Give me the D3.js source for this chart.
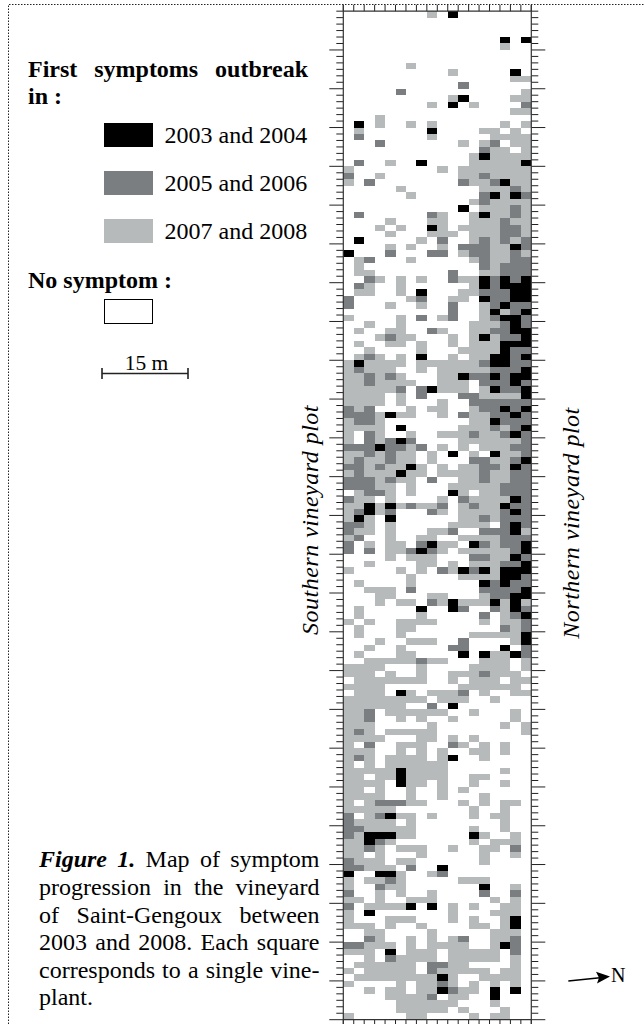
<!DOCTYPE html>
<html>
<head>
<meta charset="utf-8">
<script src="https://cdn.jsdelivr.net/npm/d3@7"></script>
<style>
  html, body { margin: 0; padding: 0; background: #fff; }
  svg { display: block; font-family: "Liberation Serif", serif; }
  .axis path, .axis line { stroke: #222; }
</style>
</head>
<body>
<div id="map"></div>
<script>
// one entry per vine row, top to bottom. K/M/L + column (or column range)
var rows = [
  "", "L8 K10", "", "", "", "K15 K17", "L15", "", "", "L6",
  "L10 K16", "L16-17", "M11", "M5 L17", "L10 K11 L16-17", "L8 K10 L12 M17", "L16-17", "L3", "K1 L3 L6 L8 L15 L17", "L1 K8 L13-14 L16",
  "M1 L8 L14-17", "M3 L11 L13 M14 L16-17", "M13 L14-15 L17", "L12 K13 L14-17", "M1 L4 K7 L12-16 K17",
  "L0 L9 L11-17", "M0 L3 L11-12 M13 L14-17", "L0 M2 M11 L12-13 M14 K15 L16-17", "L5 L13-15 M16 L17", "L6 M13 K14 L15 K16 M17",
  "L12 M13 L14-17", "K11 L13-15 M16 L17", "M1 M8 L9 L12 K13 L14-15 M16 L17", "L4 L8-9 L12-14 M15 L16-17", "L3 L5 K8 L9 L11-14 M15-16 L17",
  "L4 L8-10 L12-14 M15-16 L17", "K1 L7 M9 L12 M13 L14 M15 L16 M17", "L4 L6 L9 M11-13 L14-15 K16 M17", "K0 M4 M8-9 L11 M12-13 L14-15 M16 L17", "L1 M2 L6 L12 M13 L14-15 M16-17",
  "L1 M13 L14 M15-17", "L1-2 M10 L13-14 M15-17", "M2 L3 L5 L7 M10 L11-12 K13 M14 K15 M16 K17", "M1 L2 L5 L12 K13 M14 K15-17", "L1-2 L5 K7 L11-12 M13-15 K16-17",
  "M0 L6 M7 L10-11 K13 M14-15 K16-17", "M0 L4 L7 M10 L13 M14 K15 M16-17", "M10 L13 K14 L15 M16 K17", "L0 L5 M7 L9 M10 L13 M14 K15-16 M17", "L2 L5 L12-14 M15 K16 M17",
  "L1 L4-5 M8 L9 L12-13 M14-15 K16-17", "L3 M4 L5-6 L10 L12 K13 L14 M15-16 K17", "L1 L4-5 L7 L10 L12-14 K15-17", "L2 L7 L11-14 K15 M16-17", "L1 M2 L3 L5 K7 L10 L12-13 K14-15 M16 K17",
  "L0 K1 L2-5 L7-12 M13 K14-15 M16-17", "L0 M1 L2-4 L7 L9-13 M14-16 K17", "L0-1 M2 L3 M4 L5 L9-10 K11 M12-13 K14 M15 K16-17", "L0-1 M2 L3-6 L9-11 M13-15 K16 M17", "L0-4 M5 M7 K8 L9-11 L13 K14 M15-16 K17",
  "L0-3 L5 M7 M11-12 L13-16 K17", "L0-3 L5 L9 M12-17", "M0 L1 M2 L6 L8-9 L12 M13-14 K15 M16 K17", "M0-2 L3 K4 L5-6 L9 M11 L12-13 M14-15 K16 M17", "L0 M1-2 L3 L12-13 K14 M15-17",
  "L0-3 K5 L11-13 M14 L15 M16 K17", "L0 M2 L3 L6 L9-11 M12 L13-14 M15 K16 M17", "L0 M2 L3 M4 K5 M6 L11-16 M17", "M0-2 K3 M4-5 L6 M7 L9 L11 L13-15 M16-17", "L0-1 M2 L3 M4 L5-6 L8 K10 L12 K14 L15-16 M17",
  "L0 M1 L2-3 M4 L5-6 L8 M12-13 L14-15 M16 K17", "M0-1 L2 M3 L4-5 K6 L7 L9 L11-12 M13-14 L15 K16 M17", "L0 M1 L2-4 K5 L6-7 L9-12 M13 L14-15 M16-17", "M0-2 L3 M4 L5-6 M8 L11-12 M13 L14-15 M16-17", "M0-2 L3-4 L6 L10-14 M15-17",
  "L1 M2-3 L4 L6 K10 L11 L13-14 M15-17", "M0 L1-2 L4 L9 M11 L12-15 K16 M17", "L0-1 K2 L3 K4 L5 M6 L7-8 M9 L11 M12 L13-14 K15 M16-17", "L0 M1 K2 L3 M4 M8 L9 L11-14 M15 K16 M17", "L0 K1 L2 K4 L11-12 M13 L14 M15-17",
  "M0-1 L2 L4 L10-13 M15 K16 M17", "M0 L1-2 L4 L8-9 M10 M13-15 K16 L17", "L0 M1 L4 L7-8 L11-14 M15-17", "M0 L2 L4-5 M7 K8 L9-10 K12 M13 L14 M15-16 K17", "M0 M2 L4-5 M6 K7 M8 L9 L11-15 M16 K17",
  "L4 L6-8 M12-13 L14-15 K16 M17", "L2 L7-8 L10 L12-14 M15-16 K17", "L0 L5 L7 M9 L10 K11 M12 K13 L14 K15-17", "L6 L11-14 K15-16 M17", "L1 L6 K13 M14 K15 M16-17",
  "L2-4 M6 M13-16 K17", "L3-4 L8-9 L13 M14-15 K16-17", "L3 L5-6 M8 L9 K10 L11-13 K14 L15 K16 L17", "L1 K7 K10 M11 M14 L15 K16 M17", "L1 L7 M13 L15 M16 K17",
  "L0 L2 L5-8 L13 L15-16 M17", "L1 L5-6 M15 L16 M17", "L1 L5 L12-16 K17", "L3 L6-8 M11 L16 K17", "L2 L5 M10-11 K15 M17",
  "L1 L5-6 K11 K13 L14-15 K16 M17", "L2-6 M7 L8-9 L13-15 L17", "L0-3 L7 L12-15 L17", "L0-2 L4 L7 L10-12 M13 L14-16", "L1-7 L10 L12-14 L16-17",
  "L0-3 L11-16", "L1-3 K5 L6 L8-10 M11 L13 L16-17", "L0-7 L9-11 L14", "L0-5 M8 K10", "L0-1 M2 L4-9 L12 L16",
  "L0-1 M2 L5 L7 L10 L16", "L0-2 L8 L15 L17", "L0 M1 L2 L4-8 L17", "L0-3 L7-8 L10 L12", "L0 M2 L5-7 M10 L11 L13 L15",
  "L0-2 L5 L7 L9 L12-13 L15", "L0 M1 L2 L4-7 L9 K10 L13", "L0 L2 L4-9", "L0-4 K5 L6-9 L15", "L0-1 L3-4 K5 L6-9 L12-13",
  "L0-3 K5 L6-7 L9 L12 L15", "L0-1 L3 L6 L9 L11", "L0-3 L6 L9 L13", "L0 L2 M3-5 L6-7 L11 L13 L15-16", "L0-4 L12 L15",
  "M0 L2 M3 K4 L5-6 L8 L12 L14-15", "M0 L1-4 L6 L15", "M0-1 L2-6 L12 L15", "M0 L1 K2-4 L5-6 K12 L13 L16", "L0-1 K2 M3 L4 L12 L14-16",
  "L0-1 M2 L3 L5-7 L10 L13-14 M16", "L0-1 L3 L7 L13 L16", "M0 L1-3 L5-6 L13", "M0-1 L2-4 M6 K9", "K0 K3-4 L5 L8 M9",
  "L0 L2-3 M4 L5 L11-13", "L0 M3 L4-5 K13 L16", "M0 L3 L5 L8 M13 M16", "L0-1 L3 L6-8 L14 L16", "M0 L2-5 K6 K8 L10 L12 L15-16",
  "L0 K2 L10 L14-16", "L0 L4-6 L10 L12 L15 K16", "L0-2 L4 L7 L12-13 L15 K16", "L2-3 L8 L14-16", "M2 L3 L6 L8 L10 M11 L14-15 M16",
  "M0-1 L2-4 L6 L8-11 L14 K15 M16", "L0-2 K4 L6-8 L10-14 M16", "L2 M4 L5-8 L10-14 L16", "L1-6 M8-9 L10-11 L16", "L0 L2-6 M8 L9-13 L15-16",
  "L1-8 K9 L10 L13-16", "L0 L5 L7-8 M9 L10 L12 L14 L16", "L2 L4-5 L7-8 K9 M10 L11-12 K14 K16", "L4-7 M8 L10-11 K14", "L5-10 L14",
  "L5-9 L11 L15", "L0 L6-7 L12 L14-15"
];

var classes = ["2003 and 2004", "2005 and 2006", "2007 and 2008"];
var classCodes = ["K", "M", "L"];
var captionLines = [
  "Map of symptom",
  "progression in the vineyard",
  "of Saint-Gengoux between",
  "2003 and 2008. Each square",
  "corresponds to a single vine-",
  "plant."
];

var nCols = 18;

var svg = d3.select("#map").append("svg")
  .attr("width", 644)
  .attr("height", 1024);

var x = d3.scaleLinear().domain([0, nCols]).range([343.3, 531.3]);
var y = d3.scaleLinear().domain([0, rows.length]).range([4.7, 1019.7]);
var color = d3.scaleOrdinal().domain(classCodes).range(["#000000", "#7b7e80", "#b6babb"]);

// page frame, dotted on top and left only
svg.append("path")
  .attr("d", "M8.5,1024V4.5H644")
  .attr("fill", "none")
  .attr("stroke", "#222")
  .attr("stroke-dasharray", "1.5 1.5");

// expand the row strings into cells
var cells = [];
rows.forEach(function(row, r) {
  row.split(" ").filter(Boolean).forEach(function(tok) {
    var p = tok.slice(1).split("-").map(Number);
    d3.range(p[0], (p.length > 1 ? p[1] : p[0]) + 1).forEach(function(c) {
      cells.push({ r: r, c: c, code: tok[0] });
    });
  });
});

svg.append("g").selectAll("rect")
  .data(cells)
  .enter()
  .append("rect")
  .attr("x", d => x(d.c))
  .attr("y", d => y(d.r))
  .attr("width", d => x(d.c + 1) - x(d.c))
  .attr("height", d => y(d.r + 1) - y(d.r))
  .attr("fill", d => color(d.code))
  .attr("shape-rendering", "crispEdges");

// ticks: every row, longer every sixth
var allTicks = d3.range(1, rows.length + 1);
var minorTicks = allTicks.filter(k => k === 1 || (k - 1) % 6 !== 0);
var majorTicks = allTicks.filter(k => k !== 1 && (k - 1) % 6 === 0);
var colTicks = d3.range(0, nCols + 1);

function addAxis(axis, tx, ty) {
  var g = svg.append("g")
    .attr("class", "axis")
    .attr("transform", `translate(${tx}, ${ty})`)
    .call(axis.offset(0).tickFormat(""));
  g.select(".domain").remove();
  return g;
}

addAxis(d3.axisLeft(y).tickValues(minorTicks).tickSize(7), x.range()[0], 0);
addAxis(d3.axisLeft(y).tickValues(majorTicks).tickSize(14), x.range()[0], 0);
addAxis(d3.axisRight(y).tickValues(minorTicks).tickSize(7), x.range()[1], 0);
addAxis(d3.axisRight(y).tickValues(majorTicks).tickSize(14), x.range()[1], 0);
addAxis(d3.axisBottom(x).tickValues(colTicks).tickSize(6.5), 0, y(0));
addAxis(d3.axisBottom(x).tickValues(colTicks).tickSize(5), 0, y(rows.length));

svg.selectAll("line.edge")
  .data([
    [x(0), 4.7, x(0), 1024],
    [x(nCols), 4.7, x(nCols), 1024],
    [x(0), y(1), x(nCols), y(1)],
    [x(0), y(rows.length), x(nCols), y(rows.length)]
  ])
  .enter()
  .append("line")
  .attr("class", "edge")
  .attr("x1", d => d[0]).attr("y1", d => d[1])
  .attr("x2", d => d[2]).attr("y2", d => d[3])
  .attr("stroke", "#333")
  .attr("stroke-width", 1.2);

// stretch a text line to the given width, like the justified paper text
function justify(text, width) {
  var len = text.node().getComputedTextLength();
  var gaps = text.text().split(" ").length - 1;
  text.attr("word-spacing", (width - len) / gaps);
}

var fontSize = 24;

// legend
var title = svg.append("text")
  .attr("x", 28).attr("y", 77)
  .attr("font-size", fontSize).attr("font-weight", "bold")
  .text("First symptoms outbreak");
justify(title, 280);

svg.append("text")
  .attr("x", 28).attr("y", 104)
  .attr("font-size", fontSize).attr("font-weight", "bold")
  .text("in :");

var legendY = d3.scalePoint().domain(classCodes).range([123, 219]);

svg.selectAll("rect.swatch")
  .data(classCodes)
  .enter()
  .append("rect")
  .attr("class", "swatch")
  .attr("x", 104).attr("y", d => legendY(d))
  .attr("width", 49).attr("height", 24)
  .attr("fill", d => color(d));

svg.selectAll("text.swatch-label")
  .data(classCodes)
  .enter()
  .append("text")
  .attr("class", "swatch-label")
  .attr("x", 164.5).attr("y", d => legendY(d) + 20)
  .attr("font-size", fontSize)
  .text((d, i) => classes[i]);

svg.append("text")
  .attr("x", 28).attr("y", 288)
  .attr("font-size", fontSize).attr("font-weight", "bold")
  .text("No symptom :");

svg.append("rect")
  .attr("x", 104.5).attr("y", 299.5)
  .attr("width", 48).attr("height", 24)
  .attr("fill", "#fff").attr("stroke", "#000");

// scale bar
svg.append("path")
  .attr("d", "M102,368V379M102,373.5H188M188,368V379")
  .attr("fill", "none")
  .attr("stroke", "#222")
  .attr("stroke-width", 1.6);

svg.append("text")
  .attr("x", 146.5).attr("y", 370)
  .attr("text-anchor", "middle")
  .attr("font-size", 21.5)
  .text("15 m");

// plot names
[["Southern vineyard plot", 317.5, 520], ["Northern vineyard plot", 579, 523]].forEach(function(d) {
  svg.append("text")
    .attr("transform", `translate(${d[1]}, ${d[2]}) rotate(-90)`)
    .attr("text-anchor", "middle")
    .attr("font-size", 24)
    .attr("letter-spacing", 0.5)
    .attr("font-style", "italic")
    .text(d[0]);
});

// caption
var capX = 39, capW = 280.5;
var firstLine = svg.append("text")
  .attr("x", capX).attr("y", 867.3)
  .attr("font-size", fontSize);
firstLine.append("tspan")
  .attr("font-weight", "bold").attr("font-style", "italic")
  .text("Figure 1.");
firstLine.append("tspan").text(" " + captionLines[0]);
justify(firstLine, capW);

captionLines.slice(1).forEach(function(line, i) {
  var t = svg.append("text")
    .attr("x", capX).attr("y", 895 + 27.5 * i)
    .attr("font-size", fontSize)
    .text(line);
  if (i < captionLines.length - 2) justify(t, capW);
});

// north arrow
svg.append("line")
  .attr("x1", 568.3).attr("y1", 981)
  .attr("x2", 600).attr("y2", 977.8)
  .attr("stroke", "#000").attr("stroke-width", 1.6);
svg.append("path")
  .attr("d", "M610,976.6L596,971.8L599,977.8L597,983.5Z")
  .attr("fill", "#000");
svg.append("text")
  .attr("x", 611).attr("y", 982)
  .attr("font-size", 20)
  .text("N");
</script>
</body>
</html>
